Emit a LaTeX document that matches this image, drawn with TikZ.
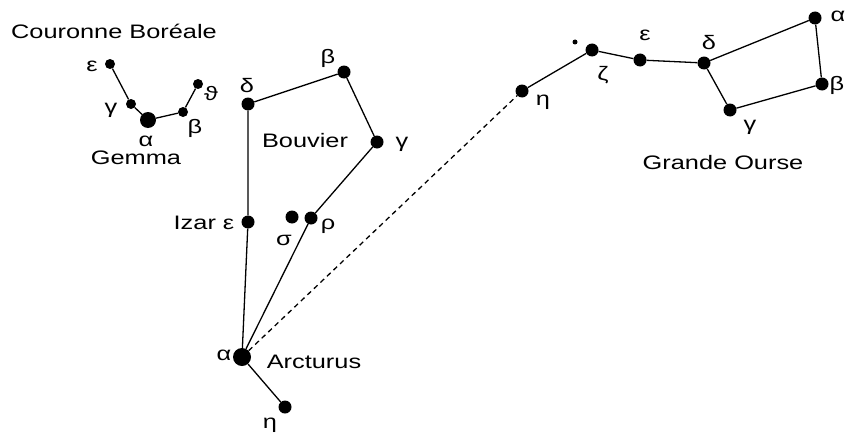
\documentclass[tikz,border=0pt]{standalone}
\usepackage{fontspec}
\setmainfont{Liberation Sans}
\newcommand{\sx}[1]{\scalebox{1.3}[1]{#1}}
\begin{document}
\begin{tikzpicture}[x=1pt,y=-1pt,
  star/.style={circle,fill=black,inner sep=0,minimum size=10pt},
  mstar/.style={circle,fill=black,inner sep=0,minimum size=13pt},
  bstar/.style={circle,fill=black,inner sep=0,minimum size=16pt},
  tiny/.style={circle,fill=black,inner sep=0,minimum size=5pt},
  lbl/.style={inner sep=0,font=\fontsize{19.5}{20}\selectfont},
  link/.style={line width=1.3pt},
  dlink/.style={line width=1.3pt,dash pattern=on 5pt off 4pt}]
\useasboundingbox (0,0) rectangle (850,436);
% Couronne Boreale
\node[star] (ce) at (110,64) {};
\node[star] (cg) at (131,104) {};
\node[bstar] (ca) at (148,120) {};
\node[star] (cb) at (183,112) {};
\node[star] (ct) at (198,84) {};
\draw[link] (ce) -- (cg) -- (ca) -- (cb) -- (ct);
\node[lbl] (tcrb) at (114,31) {\sx{Couronne Boréale}};
\node[lbl] (lce) at (92,66) {\sx{ε}};
\node[lbl] (lcg) at (111,110) {\sx{γ}};
\node[lbl] (lca) at (146,141) {\sx{α}};
\node[lbl] (tgem) at (136,158) {\sx{Gemma}};
\node[lbl] (lcb) at (195,128) {\sx{β}};
\node[lbl] (lct) at (211,94) {\sx{ϑ}};
% Bouvier
\node[mstar] (bd) at (248,104) {};
\node[mstar] (bb) at (344,72) {};
\node[mstar] (bg) at (377,142) {};
\node[mstar] (be) at (248,222) {};
\node[mstar] (br) at (311,218) {};
\node[mstar] (bs) at (292,217) {};
\node[bstar,minimum size=18pt] (ba) at (242,357) {};
\node[mstar] (bh) at (285,407) {};
\draw[link] (ba) -- (be) -- (bd) -- (bb) -- (bg) -- (br) -- (ba) -- (bh);
\node[lbl] (lbd) at (247,86) {\sx{δ}};
\node[lbl] (lbb) at (328,58) {\sx{β}};
\node[lbl] (lbg) at (402,144) {\sx{γ}};
\node[lbl] (tboo) at (305,141) {\sx{Bouvier}};
\node[lbl] (lbe) at (204,223) {\sx{Izar ε}};
\node[lbl] (lbs) at (284,240) {\sx{σ}};
\node[lbl] (lbr) at (328,226) {\sx{ρ}};
\node[lbl] (lba) at (224,355) {\sx{α}};
\node[lbl] (tarc) at (314,362) {\sx{Arcturus}};
\node[lbl] (lbh) at (270,425) {\sx{η}};
% Grande Ourse
\node[mstar] (uh) at (522,91) {};
\node[mstar] (uz) at (592,50) {};
\node[tiny] (ual) at (575,42) {};
\node[mstar] (ue) at (640,60) {};
\node[mstar] (ud) at (704,63) {};
\node[mstar] (ua) at (815,18) {};
\node[mstar] (ub) at (822,84) {};
\node[mstar] (ug) at (730,110) {};
\draw[link] (uh) -- (uz) -- (ue) -- (ud) -- (ua) -- (ub) -- (ug) -- (ud);
\draw[dlink] (ba) -- (uh);
\node[lbl] (luh) at (543,102) {\sx{η}};
\node[lbl] (luz) at (603,75) {\sx{ζ}};
\node[lbl] (lue) at (645,35) {\sx{ε}};
\node[lbl] (lud) at (709,43) {\sx{δ}};
\node[lbl] (lua) at (838,16) {\sx{α}};
\node[lbl] (lub) at (837,85) {\sx{β}};
\node[lbl] (lug) at (750,127) {\sx{γ}};
\node[lbl] (tuma) at (723,163) {\sx{Grande Ourse}};
\end{tikzpicture}
\end{document}
